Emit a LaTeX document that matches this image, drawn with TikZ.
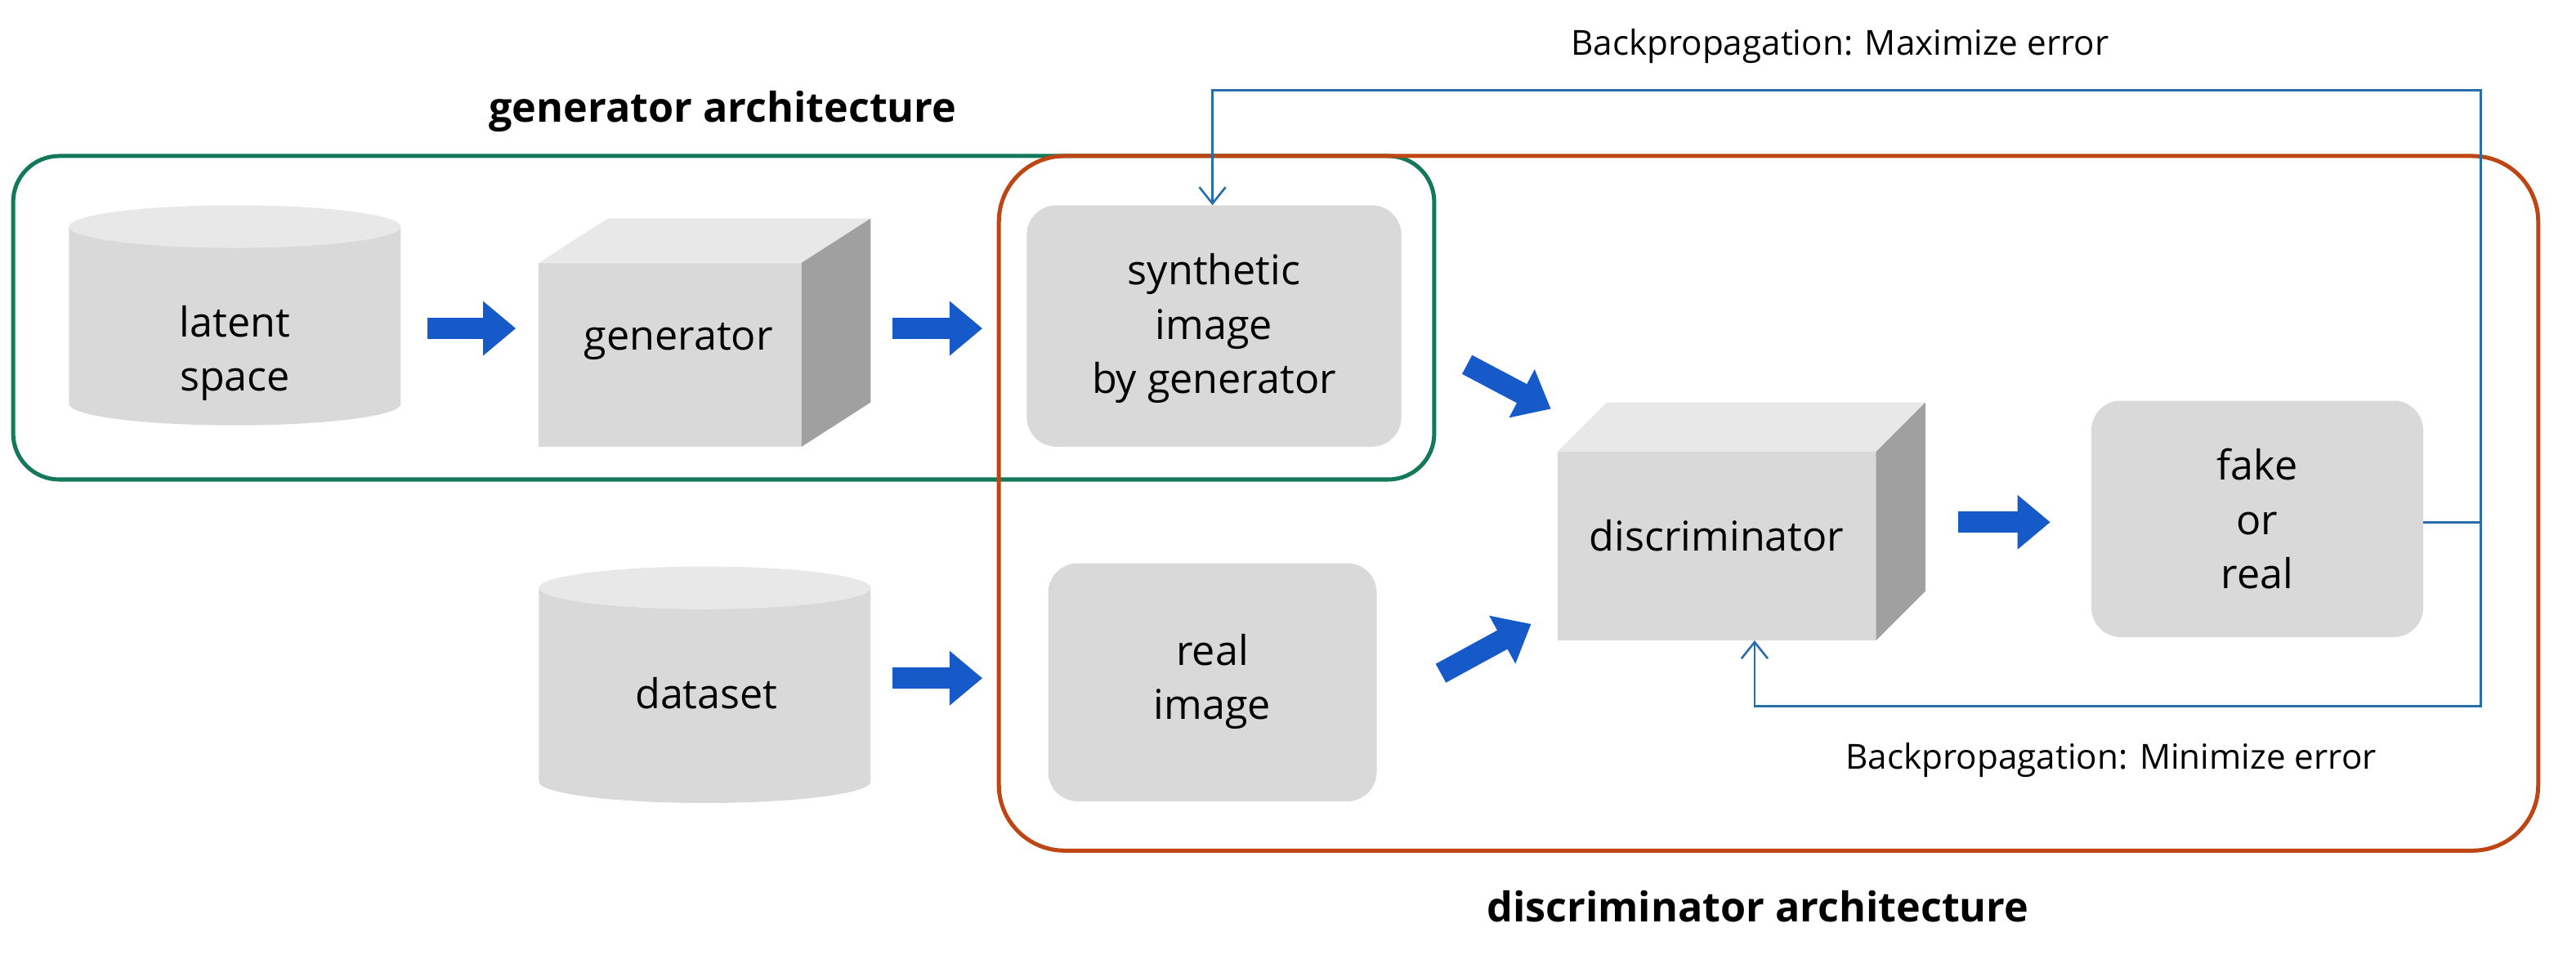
\documentclass[tikz,border=0pt]{standalone}
\usepackage{fontspec}
\setmainfont{Open Sans}
\usetikzlibrary{arrows.meta,calc}
\definecolor{boxg}{RGB}{217,217,217}
\definecolor{topg}{RGB}{232,232,232}
\definecolor{sideg}{RGB}{160,160,160}
\definecolor{fat}{RGB}{21,90,200}
\definecolor{fbcol}{RGB}{40,110,170}
\definecolor{grn}{RGB}{20,120,90}
\definecolor{org}{RGB}{190,70,20}
\begin{document}
\begin{tikzpicture}[x=1pt,y=-1pt,
  txt/.style={font=\fontsize{25}{33}\selectfont,align=center},
  rbox/.style={fill=boxg,rounded corners=18pt,draw=none},
  fatarr/.style={-{Triangle[length=20pt,width=32pt]},line width=13pt,fat},
  fb/.style={fbcol,line width=1.3pt},
  ttl/.style={font=\fontsize{25}{28}\selectfont\bfseries}]
\useasboundingbox (0,0) rectangle (1568,584);
% frames
\draw[grn,line width=2.5pt,rounded corners=28pt] (8,95) rectangle (873,292);
\draw[org,line width=2.5pt,rounded corners=40pt] (608,95) rectangle (1545,518);
\node[ttl] at (440,68) {generator architecture};
\node[ttl] at (1070,552) {discriminator architecture};
% cylinders
\foreach \x/\y/\h/\n in {42/138/108/lat,328/358/118/ds}{
  \fill[boxg] (\x,\y) -- (\x,\y+\h) arc[start angle=180,end angle=0,x radius=101,y radius=13] -- (\x+202,\y) -- cycle;
  \fill[topg] (\x+101,\y) ellipse[x radius=101,y radius=13];
}
\node[txt] (lat) at (143,215) {latent\\space};
\node[txt] (ds) at (430,422) {dataset};
% cubes
\fill[boxg] (328,160) rectangle (488,272);
\fill[topg] (328,160) -- (370,133) -- (530,133) -- (488,160) -- cycle;
\fill[sideg] (488,160) -- (530,133) -- (530,245) -- (488,272) -- cycle;
\node[txt] (gen) at (413,208) {generator};
\fill[boxg] (948,275) rectangle (1142,390);
\fill[topg] (948,275) -- (978,245) -- (1172,245) -- (1142,275) -- cycle;
\fill[sideg] (1142,275) -- (1172,245) -- (1172,360) -- (1142,390) -- cycle;
\node[txt] (disc) at (1045,326) {discriminator};
% boxes
\fill[rbox] (625,125) rectangle (853,272);
\node[txt] (syn) at (739,200) {synthetic\\image\\by generator};
\fill[rbox] (638,343) rectangle (838,488);
\node[txt] (real) at (738,415) {real\\image};
\fill[rbox] (1273,244) rectangle (1475,388);
\node[txt] (fr) at (1374,316) {fake\\or\\real};
% fat arrows
\coordinate (a1) at (260,200); \coordinate (b1) at (314,200);
\coordinate (a2) at (543,200); \coordinate (b2) at (598,200);
\coordinate (a3) at (543,413); \coordinate (b3) at (598,413);
\coordinate (a4) at (893,222); \coordinate (b4) at (944,249);
\coordinate (a5) at (877,410); \coordinate (b5) at (932,380);
\coordinate (a6) at (1192,318); \coordinate (b6) at (1248,318);
\foreach \i in {1,...,6}{\draw[fatarr] (a\i) -- (b\i);}
% feedback
\coordinate (f0) at (1475,318); \coordinate (f1) at (1510,318);
\coordinate (t1) at (738,125); \coordinate (t2) at (1068,390);
\draw[fb,-{Straight Barb[length=10pt,width=16pt]}] (f0) -- (f1) |- (738,55) -- (t1);
\draw[fb,-{Straight Barb[length=10pt,width=16pt]}] (f1) |- (1068,430) -- (t2);
\node[font=\fontsize{21}{25}\selectfont] at (1120,28) {Backpropagation: Maximize error};
\node[font=\fontsize{21}{25}\selectfont] at (1285,463) {Backpropagation: Minimize error};
\end{tikzpicture}
\end{document}
